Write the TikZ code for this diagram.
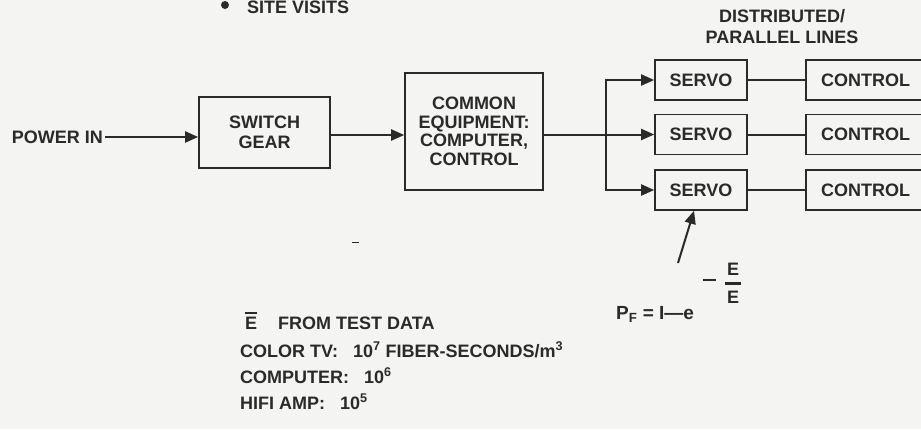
\documentclass[tikz,border=0pt]{standalone}
\usepackage{fontspec}
\setmainfont{Liberation Sans}
\usetikzlibrary{arrows.meta}
\definecolor{ink}{HTML}{2A2A2A}
\definecolor{paper}{HTML}{F4F4F2}
\tikzset{
  lbl/.style={font=\fontsize{18}{20}\selectfont\bfseries, text=ink, inner sep=0pt},
  blk/.style={lbl, draw=ink, line width=1.6pt, align=center, minimum height=40pt},
  conn/.style={draw=ink, line width=2pt},
  arr/.style={conn, -{Triangle[length=13pt,width=11pt]}},
}
\begin{document}
\begin{tikzpicture}[x=1pt,y=-1pt]
\fill[paper] (0,0) rectangle (921,429);
\clip (0,0) rectangle (921,429);
% top bullet
\fill[ink] (225,5) circle (4pt);
\node[lbl, anchor=base west] (site) at (247,13.5) {SITE VISITS};
% main chain
\node[lbl, anchor=east] (pin) at (103,137) {POWER IN};
\node[blk, minimum width=131pt, minimum height=71pt, font=\fontsize{18}{19.5}\selectfont\bfseries] (sw) at (264.5,132.5) {SWITCH\\GEAR};
\node[blk, minimum width=138pt, minimum height=117pt, font=\fontsize{18}{18.5}\selectfont\bfseries] (ce) at (474,131.5) {COMMON\\EQUIPMENT:\\COMPUTER,\\CONTROL};
\node[lbl, align=center, font=\fontsize{18}{21}\selectfont\bfseries] (dist) at (782,27) {DISTRIBUTED/\\PARALLEL LINES};
\foreach \i/\y in {1/80,2/134.5,3/190}{
  \node[blk, minimum width=92pt] (s\i) at (701,\y) {SERVO};
  \node[blk, minimum width=119pt] (c\i) at (865.5,\y) {CONTROL};
  \draw[conn] (s\i.east) -- (c\i.west);
}
\draw[arr] ([xshift=2pt]pin.east) -- (sw.west |- pin.east);
\draw[arr] ([yshift=-2.5pt]sw.east) -- ([yshift=-2.5pt]sw.east -| ce.west);
\coordinate (br) at (606,134.5);
\draw[conn] (ce.east |- br) -- (br);
\draw[arr] (br) -- (s2.west);
\draw[arr] (br) |- (s1.west);
\draw[arr] (br) |- (s3.west);
% arrow into servo 3
\coordinate (pt) at (678,263);
\draw[arr] (pt) -- (s3.south -| 694,0);
% formula
\node[lbl, anchor=base west, font=\fontsize{19}{21}\selectfont\bfseries] (pf) at (616,319) {P\textsubscript{F} = I—e};
\draw[ink, line width=2pt] (703,280) -- (716,280);
\node[lbl] (en) at (733,269) {E};
\draw[ink, line width=3.5pt] (725,283.5) -- (741,283.5);
\node[lbl] (ed) at (733,297) {E};
% stray mark
\draw[ink, line width=1pt] (352,242) -- (359,242);
% test data
\node[lbl, anchor=base west] (eb) at (245,329) {E};
\draw[ink, line width=1.3pt] ([yshift=3.5pt]eb.north west) -- ++(12,0);
\node[lbl, anchor=base west] (ft) at (278,329) {FROM TEST DATA};
\node[lbl, anchor=base west] (tv) at (240,357) {COLOR TV:\ \ \ 10\textsuperscript{7} FIBER-SECONDS/m\textsuperscript{3}};
\node[lbl, anchor=base west] (cp) at (240,383) {COMPUTER:\ \ \ 10\textsuperscript{6}};
\node[lbl, anchor=base west] (hf) at (240,409) {HIFI AMP:\ \ \ 10\textsuperscript{5}};
\end{tikzpicture}
\end{document}
